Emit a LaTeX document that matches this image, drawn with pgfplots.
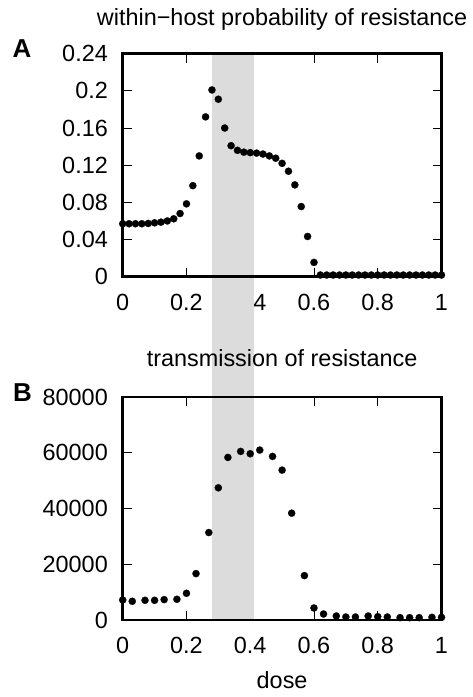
\documentclass[border=0pt]{standalone}
\usepackage{pgfplots}
\pgfplotsset{compat=1.18}
\usepackage{fontspec}
\setmainfont{Liberation Sans}
\definecolor{bandgray}{RGB}{220,220,220}
\pgfplotsset{
  geom/.style={
    scale only axis, width=318.8bp, height=223bp,
    xmin=0, xmax=1, clip=false,
    axis line style={line width=2.8bp, black},
  },
  ticked/.style={geom,
    xtick={0,0.2,0.4,0.6,0.8,1},
    tick align=inside, major tick length=9bp,
    tick style={line width=0.8bp, black},
    /pgf/number format/assume math mode=true,
    xticklabel style={inner sep=0pt, anchor=north, yshift=-17bp},
    yticklabel style={inner sep=0pt, anchor=east, xshift=-14.7bp},
  },
  overlay/.style={geom, xtick=\empty, ytick=\empty, axis on top},
  dots/.style={only marks, mark=*, mark size=3.6bp, black, mark options={fill=black, draw=black, line width=0.2bp}},
  band/.style={draw=none, fill=bandgray, forget plot, mark=none, sharp plot},
}
\begin{document}
\begin{tikzpicture}[font=\fontsize{23.5}{28}\selectfont]
% panel A: ticks, labels, title
\begin{axis}[ticked, at={(122.7bp,420.3bp)}, anchor=south west,
  ymin=0, ymax=0.24, ytick={0,0.04,0.08,0.12,0.16,0.2,0.24},
  yticklabel style={/pgf/number format/fixed, /pgf/number format/precision=2},
  title={within−host probability of resistance},
  title style={at={(0.5,1)}, anchor=base, yshift=22bp, inner sep=0pt}]
\end{axis}
% panel A: band and data, frame on top
\begin{axis}[overlay, at={(122.7bp,420.3bp)}, anchor=south west, ymin=0, ymax=0.24]
\addplot[band] coordinates {(0.281,0.24) (0.413,0.24) (0.413,-0.13) (0.281,-0.13)} --cycle;
\addplot[dots] coordinates {
(0.00,0.0570) (0.02,0.0570) (0.04,0.0570) (0.06,0.0570) (0.08,0.0573)
(0.10,0.0580) (0.12,0.0587) (0.14,0.0600) (0.16,0.0623) (0.18,0.0680)
(0.20,0.0784) (0.22,0.0980) (0.24,0.1300) (0.26,0.1720) (0.28,0.2010)
(0.30,0.1910) (0.32,0.1600) (0.34,0.1410) (0.36,0.1360) (0.38,0.1340)
(0.40,0.1335) (0.42,0.1330) (0.44,0.1320) (0.46,0.1300) (0.48,0.1275)
(0.50,0.1220) (0.52,0.1135) (0.54,0.0988) (0.56,0.0755) (0.58,0.0433)
(0.60,0.0154) (0.62,0.0018) (0.64,0.0018) (0.66,0.0018) (0.68,0.0018)
(0.70,0.0018) (0.72,0.0018) (0.74,0.0018) (0.76,0.0018) (0.78,0.0018)
(0.80,0.0018) (0.82,0.0018) (0.84,0.0018) (0.86,0.0018) (0.88,0.0018)
(0.90,0.0018) (0.92,0.0018) (0.94,0.0018) (0.96,0.0018) (0.98,0.0018)
(1.00,0.0018)};
\end{axis}
% panel B: ticks, labels, title
\begin{axis}[ticked, at={(122.7bp,77bp)}, anchor=south west,
  ymin=0, ymax=80000, ytick={0,20000,40000,60000,80000},
  scaled y ticks=false,
  yticklabel style={/pgf/number format/fixed, /pgf/number format/set thousands separator={}},
  title={transmission of resistance},
  title style={at={(0.5,1)}, anchor=base, yshift=25bp, inner sep=0pt},
  xlabel={dose},
  xlabel style={at={(axis description cs:0.5,0)}, anchor=base, yshift=-68bp, inner sep=0pt}]
\end{axis}
% panel B: band and data, frame on top
\begin{axis}[overlay, at={(122.7bp,77bp)}, anchor=south west, ymin=0, ymax=80000]
\addplot[band] coordinates {(0.281,80500) (0.413,80500) (0.413,0) (0.281,0)} --cycle;
\addplot[dots] coordinates {
(0.00,7186) (0.03,6707) (0.07,7066) (0.10,7066) (0.13,7305) (0.17,7425)
(0.20,9581) (0.23,16647) (0.27,31377) (0.30,47425) (0.33,58323) (0.37,60479)
(0.40,59640) (0.43,60957) (0.47,58682) (0.50,53772) (0.53,38323) (0.57,15928)
(0.60,4311) (0.63,2156) (0.67,1437) (0.70,1078) (0.73,1078) (0.77,1437)
(0.80,1198) (0.83,1078) (0.87,838) (0.90,838) (0.93,838) (0.97,958) (1.00,958)};
\end{axis}
\node[anchor=base west, inner sep=0pt, font=\bfseries\fontsize{26}{30}\selectfont] at (12.5bp,639.7bp) {A};
\node[anchor=base west, inner sep=0pt, font=\bfseries\fontsize{26}{30}\selectfont] at (13bp,295.3bp) {B};
\path (0,0) rectangle (473bp,697bp);
\end{tikzpicture}
\end{document}
